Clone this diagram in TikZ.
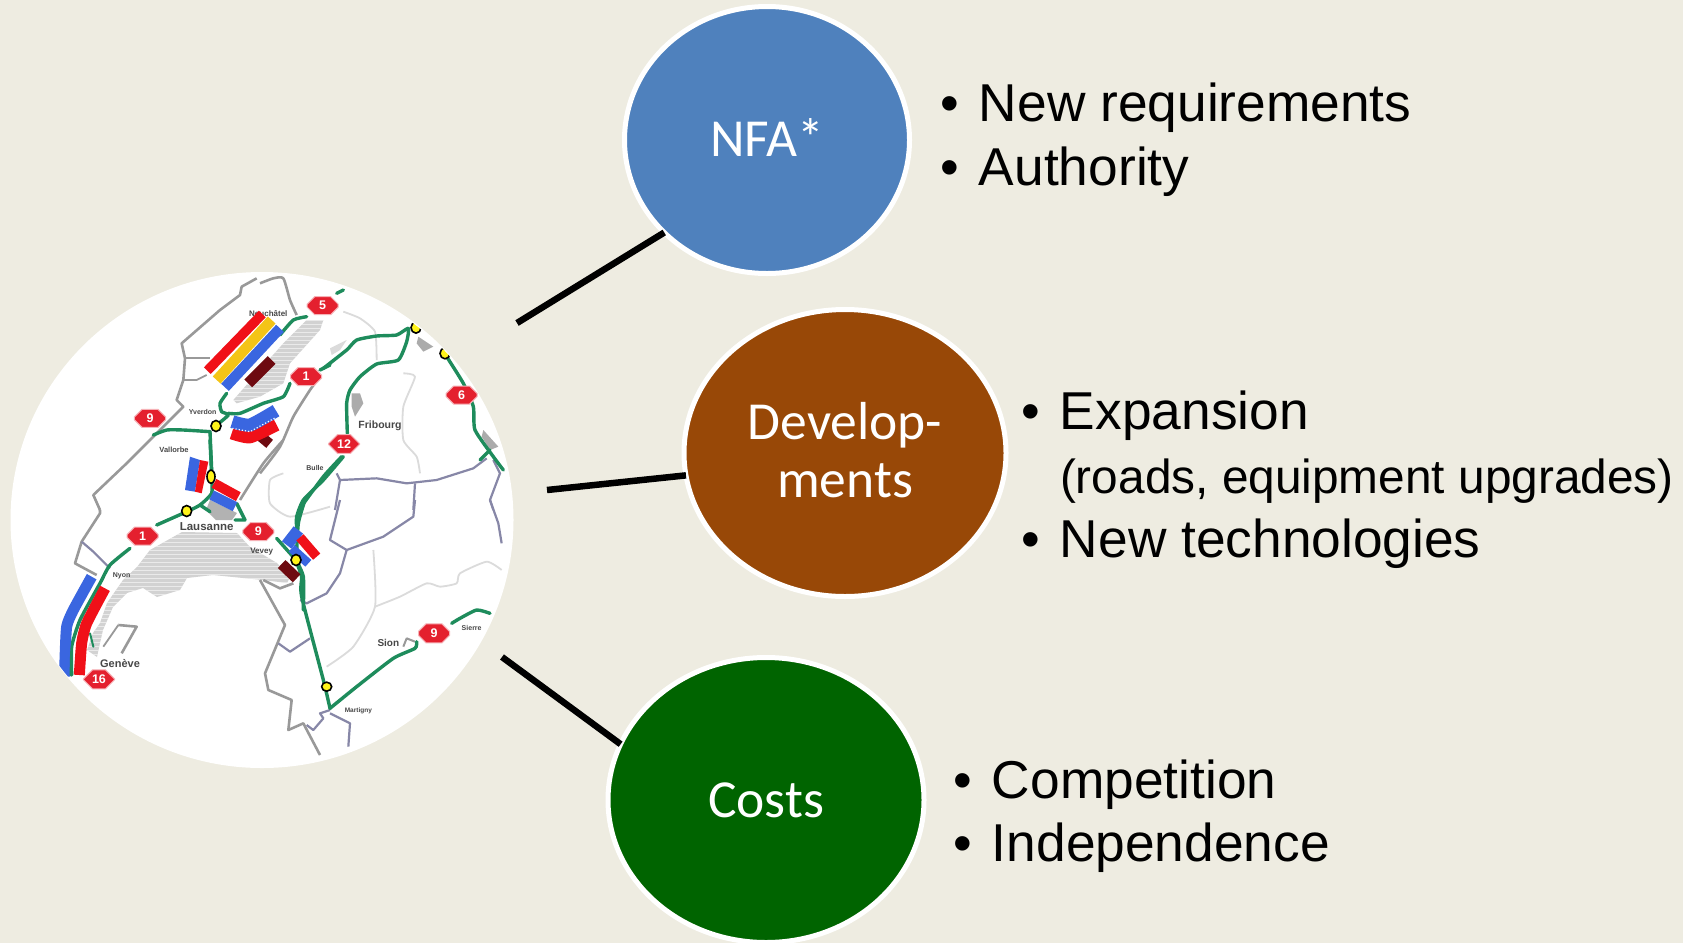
\documentclass[tikz,border=0pt]{standalone}
\usepackage{fontspec}
\setmainfont{Liberation Sans}
\newfontfamily\calib{Carlito}
\usetikzlibrary{shapes.geometric,shapes.misc}
\definecolor{bgc}{HTML}{EEECE1}
\definecolor{blueC}{HTML}{4F81BD}
\definecolor{brownC}{HTML}{984807}
\definecolor{greenC}{HTML}{006400}
\definecolor{roadC}{HTML}{1E8C5C}
\definecolor{bandB}{HTML}{3A66E0}
\definecolor{bandR}{HTML}{F01018}
\definecolor{bandY}{HTML}{F4C416}
\definecolor{bandD}{HTML}{6E0A10}
\definecolor{shieldC}{HTML}{E4202E}
\definecolor{lakeC}{HTML}{D2D2D2}
\tikzset{
  bubble/.style={ellipse,draw=white,line width=5pt,inner sep=0pt,outer sep=0pt,text=white,align=center,font=\calib\fontsize{53.5}{58}\selectfont},
  link/.style={draw=black,line width=6.5pt},
  item/.style={anchor=base west,inner sep=0pt,outer sep=0pt,font=\fontsize{53.3}{53}\selectfont},
  subitem/.style={anchor=base west,inner sep=0pt,outer sep=0pt,font=\fontsize{47.8}{48}\selectfont},
  road/.style={draw=roadC,line width=3.4pt,line join=round,line cap=round},
  mapline/.style={draw=black!40,line width=2.6pt,line join=round},
  bluel/.style={draw=black!35!blue!25!gray!75,line width=2.2pt,line join=round},
  paleline/.style={draw=black!14,line width=1.8pt,line join=round},
  band/.style={line width=#1,line join=round},
  shield/.style={chamfered rectangle,chamfered rectangle xsep=4pt,chamfered rectangle ysep=5pt,fill=shieldC,draw=shieldC!35,line width=1pt,minimum width=31pt,minimum height=18pt,inner sep=0pt,text=white,font=\bfseries\fontsize{12.5}{12.5}\selectfont},
  junction/.style={ellipse,fill=yellow!90!white,draw=black,line width=1.6pt,minimum width=10pt,minimum height=11pt,inner sep=0pt},
  town/.style={inner sep=0pt,text=black!72,font=\bfseries\fontsize{#1}{#1}\selectfont},
  zA/.style={shift={(0,260)},scale=1/3},
  zB/.style={shift={(260,260)},scale=1/3},
  zC/.style={shift={(0,500)},scale=1/3},
  zD/.style={shift={(260,500)},scale=1/3},
  zE/.style={shift={(150,300)},scale=1/3},
  zF/.style={shift={(150,440)},scale=1/3}
}
\newcommand\mpath[2]{\draw[#1] plot[smooth,tension=0.35] coordinates {#2};}
\newcommand\bul{\makebox[0pt][r]{\textbullet\hspace{20pt}}}
\begin{document}
\begin{tikzpicture}[x=1pt,y=-1pt]
\useasboundingbox (0,0) rectangle (1683,943);
\fill[bgc] (0,0) rectangle (1683,943);
% map disc
\node[ellipse,fill=white,minimum width=503pt,minimum height=496pt,inner sep=0pt,outer sep=0pt] (map) at (262,520) {};
\begin{scope}
\clip (262,520) ellipse [x radius=251.5,y radius=246];
% lakes
\begin{scope}
\clip (182,532)--(237,533)--(250,547)--(277,563)--(290,577)--(287,583)--(263,580)--(213,575)--(187,578)--(180,590)--(157,597)--(143,588)--(127,593)--(113,607)--(103,630)--(100,643)--(97,657)--(87,650)--(93,633)--(100,623)--(107,603)--(123,580)--(137,567)--(150,550)--cycle;
\fill[lakeC] (80,525) rectangle (300,660);
\foreach \yy in {530,534,...,660} {\draw[white,opacity=.55,line width=.6pt] (80,\yy) -- (300,\yy);}
\end{scope}
\begin{scope}[zE]
\clip (470,60)--(520,60)--(510,90)--(420,190)--(400,250)--(330,290)--(260,310)--(250,300)--(320,220)--(400,130)--cycle;
\fill[lakeC] (240,50) rectangle (530,320);
\foreach \yy in {50,62,...,320} {\draw[white,opacity=.55,line width=.6pt] (240,\yy) -- (530,\yy);}
\end{scope}
\fill[black!30] (210,500) -- (237,513) -- (232,520) -- (216,520) -- (206,510) -- cycle;
\begin{scope}[zB]
\fill[black!33] (275,400)--(300,400)--(310,430)--(285,470)--(275,440)--cycle;
\fill[black!33] (475,230)--(520,260)--(490,275)--(470,250)--cycle;
\fill[black!33] (670,510)--(715,560)--(690,570)--(665,530)--cycle;
\fill[black!14] (210,265)--(260,240)--(240,270)--(215,285)--cycle;
\end{scope}
% pale borders
\begin{scope}[zB]
\mpath{paleline}{(430,340)(465,350)(430,440)(430,540)(470,590)(480,640)}
\mpath{paleline}{(250,155)(300,175)(345,215)(350,300)}
\end{scope}
\begin{scope}[zD]
\mpath{paleline}{(340,150)(345,320)(280,440)(200,500)}
\mpath{paleline}{(345,320)(420,290)(500,250)(540,260)(590,250)(600,220)(680,185)(725,210)}
\end{scope}
\begin{scope}[zF]
\mpath{paleline}{(400,100)(360,120)(360,190)(420,230)(540,200)}
\end{scope}
% grey and blue borders
\begin{scope}[zA]
\draw[mapline] (770,55)--(725,80)--(720,105)--(660,150)--(545,250)--(555,295)--(550,360)--(530,420)--(550,440)--(470,520)--(380,610)--(280,705)--(300,750);
\draw[mapline,line width=1.8pt] (555,295)--(630,295);
\draw[mapline,line width=1.8pt] (550,360)--(590,360)--(620,345);
\end{scope}
\begin{scope}[zC]
\draw[mapline] (300,30)--(300,40)--(245,125)--(225,190)--(290,225);
\draw[bluel] (245,125)--(280,155)--(330,205);
\draw[mapline,line width=1.8pt] (355,375)--(310,440);
\draw[mapline] (355,375)--(410,380)--(365,460);
\end{scope}
\begin{scope}[zB]
\mpath{mapline}{(0,70)(40,55)(70,55)(90,120)(110,165)}
\mpath{mapline}{(165,370)(150,390)(100,470)(60,560)(0,640)}
\draw[bluel] (230,640)--(240,660)--(350,655)--(440,670)--(530,660)--(640,625)--(680,595);
\draw[bluel] (240,660)--(225,750);
\draw[bluel] (465,670)--(460,750);
\draw[bluel] (700,600)--(720,640)--(690,720)--(700,750);
\end{scope}
\begin{scope}[zF]
\mpath{mapline}{(400,0)(340,70)(270,180)}
\end{scope}
\begin{scope}[zD]
\draw[bluel] (240,0)--(210,120)--(260,150)--(370,110)--(460,50)--(465,0);
\draw[bluel] (690,0)--(715,70)--(725,130);
\draw[bluel] (260,150)--(240,220)--(200,280)--(140,310)--(120,300);
\draw[mapline] (0,240)--(75,375)--(15,520)--(25,570)--(95,600)--(85,690)--(130,670)--(180,765);
\draw[bluel] (55,430)--(90,455)--(150,415);
\draw[bluel] (210,630)--(180,640)--(190,655)--(160,690)--(140,675);
\draw[bluel] (210,640)--(270,670)--(265,740);
\draw[mapline] (10,240)--(60,265)--(100,250);
\draw[mapline,line width=2pt] (430,440)--(440,415)--(465,425);
\end{scope}
% roads
\begin{scope}[zB]
\mpath{road}{(190,325)(260,270)(290,240)(350,228)(410,225)(445,205)(440,245)(415,300)(350,312)(300,350)(270,390)(260,430)(262,520)}
\mpath{road}{(245,590)(190,650)(120,745)}
\mpath{road}{(560,290)(610,370)(640,440)(645,510)(700,590)(730,630)}
\mpath{road}{(660,600)(690,570)}
\mpath{road}{(230,100)(250,90)}
\end{scope}
\begin{scope}[zD]
\mpath{road}{(135,0)(115,70)(110,180)(125,230)(125,290)(190,540)(210,625)}
\mpath{road}{(210,625)(290,560)(400,475)(465,445)(470,425)}
\mpath{road}{(575,370)(600,355)(650,330)(690,340)}
\end{scope}
\begin{scope}[zE]
\node[town=8] (t1) at (355,40) {Neuchâtel};
\mpath{road}{(230,280)(210,310)(215,335)(235,345)(200,375)}
\mpath{road}{(235,340)(270,340)(340,310)(400,290)(420,250)}
\mpath{road}{(510,210)(540,195)}
\mpath{road}{(470,50)(430,60)(390,105)}
\mpath{road}{(180,395)(100,390)(50,390)(10,405)}
\mpath{road}{(180,395)(185,510)}
\end{scope}
\begin{scope}[zF]
\mpath{road}{(580,50)(520,120)(460,180)(440,230)(440,265)}
\mpath{road}{(438,360)(460,410)(460,510)}
\mpath{road}{(180,0)(185,110)(185,160)(150,195)(110,215)(20,255)}
\draw[road] (150,195)--(180,215);
\draw[road] (260,190)--(285,240)--(255,240);
\draw[road] (380,295)--(438,360);
\end{scope}
\begin{scope}[zC]
\mpath{road}{(390,145)(330,195)(300,250)(240,360)(215,440)(215,525)}
\draw[road,line width=2pt] (270,400)--(280,440);
\end{scope}
% bands
\begin{scope}[zE]
\draw[band=9.5pt,bandR] (172,212)--(337,42);
\draw[band=10.5pt,bandY] (200,240)--(365,60);
\draw[band=10.5pt,bandB] (225,262)--(390,85);
\draw[band=11pt,bandD] (295,250)--(365,180);
\draw[band=12pt,bandD] (335,432)--(355,408);
\mpath{band=12pt,bandR}{(245,400)(300,412)(380,375)}
\mpath{band=13pt,bandB}{(247,365)(300,375)(378,332)}
\draw[white,dotted,line width=1.2pt] (247,385)--(300,395)--(378,352);
\end{scope}
\begin{scope}[zF]
\fill[bandB] (120,50)--(150,60)--(135,155)--(105,150)--cycle;
\fill[bandR] (150,60)--(175,65)--(155,160)--(135,155)--cycle;
\draw[band=10pt,bandR] (192,130)--(265,170);
\draw[band=10pt,bandB] (185,165)--(255,200);
\draw[band=12pt,bandB] (445,270)--(410,315);
\draw[band=9.5pt,bandR] (450,292)--(500,350);
\draw[band=9pt,bandB] (425,325)--(475,370);
\draw[band=11pt,bandD] (395,372)--(440,415);
\end{scope}
\begin{scope}[zC]
\mpath{band=11pt,bandB}{(275,230)(220,330)(200,380)(195,480)(195,530)}
\mpath{band=11pt,bandR}{(315,265)(260,370)(245,430)(238,525)}
\mpath{road,line width=2pt}{(240,360)(215,440)(212,525)}
\end{scope}
% junctions
\begin{scope}[zE]\node[junction] (j1) at (198,378) {};\end{scope}
\begin{scope}[zF]
\node[junction,minimum width=8pt,minimum height=13pt] (j2) at (183,110) {};
\node[junction] (j3) at (110,213) {};
\node[junction] (j4) at (438,360) {};
\end{scope}
\begin{scope}[zD]\node[junction,minimum height=9pt] (j5) at (200,560) {};\end{scope}
\begin{scope}[zB]
\node[junction] (j6) at (468,203) {};
\node[junction] (j7) at (555,280) {};
\end{scope}
% shields
\begin{scope}[zA]\node[shield] (s1) at (450,475) {9};\end{scope}
\begin{scope}[zB]
\node[shield] (s2) at (188,137) {5};
\node[shield] (s3) at (138,350) {1};
\node[shield] (s4) at (605,405) {6};
\node[shield] (s5) at (252,552) {12};
\end{scope}
\begin{scope}[zC]
\node[shield] (s6) at (428,108) {1};
\node[shield] (s7) at (297,538) {16};
\end{scope}
\begin{scope}[zF]\node[shield] (s8) at (325,275) {9};\end{scope}
\begin{scope}[zD]\node[shield,minimum height=19pt] (s9) at (522,400) {9};\end{scope}
% towns
\begin{scope}[zE]
\node[town=7] (t2) at (158,335) {Yverdon};
\node[town=7.5] (t3) at (72,450) {Vallorbe};
\end{scope}
\begin{scope}[zF]
\node[town=11.5] (t4) at (170,260) {Lausanne};
\node[town=8] (t5) at (335,335) {Vevey};
\node[town=7] (t6) at (495,85) {Bulle};
\end{scope}
\begin{scope}[zB]\node[town=10.5] (t7) at (360,498) {Fribourg};\end{scope}
\begin{scope}[zC]
\node[town=11] (t8) at (360,490) {Genève};
\node[town=7] (t9) at (365,228) {Nyon};
\end{scope}
\begin{scope}[zD]
\node[town=10] (t10) at (385,430) {Sion};
\node[town=6.5] (t11) at (295,633) {Martigny};
\node[town=7] (t12) at (635,385) {Sierre};
\end{scope}
\end{scope}
% bubbles
\node[bubble,fill=blueC,minimum width=285pt,minimum height=267pt] (nfa) at (767,140) {\raisebox{5pt}{NFA*}};
\node[bubble,fill=brownC,minimum width=322pt,minimum height=287pt] (dev) at (845,453) {\begin{tabular}{@{}c@{}}\rule{0pt}{49pt}Develop-\\ments\end{tabular}};
\node[bubble,fill=greenC,minimum width=316pt,minimum height=285pt] (cost) at (766,800) {Costs};
% connectors
\coordinate (c1) at (517,323);
\coordinate (c2) at (547,490);
\coordinate (c3) at (502,657);
\draw[link] (c1) -- (nfa.222.7);
\draw[link] (c2) -- (dev.188);
\draw[link] (c3) -- (cost.159.3);
% text
\node[item] (i1) at (979,121) {\bul New requirements};
\node[item] (i2) at (979,185) {\bul Authority};
\node[item] (i3) at (1060,429) {\bul Expansion};
\node[subitem] (i4) at (1060,493) {(roads, equipment upgrades)};
\node[item] (i5) at (1060,557) {\bul New technologies};
\node[item] (i6) at (992,798) {\bul Competition};
\node[item] (i7) at (992,861) {\bul Independence};
\end{tikzpicture}
\end{document}
